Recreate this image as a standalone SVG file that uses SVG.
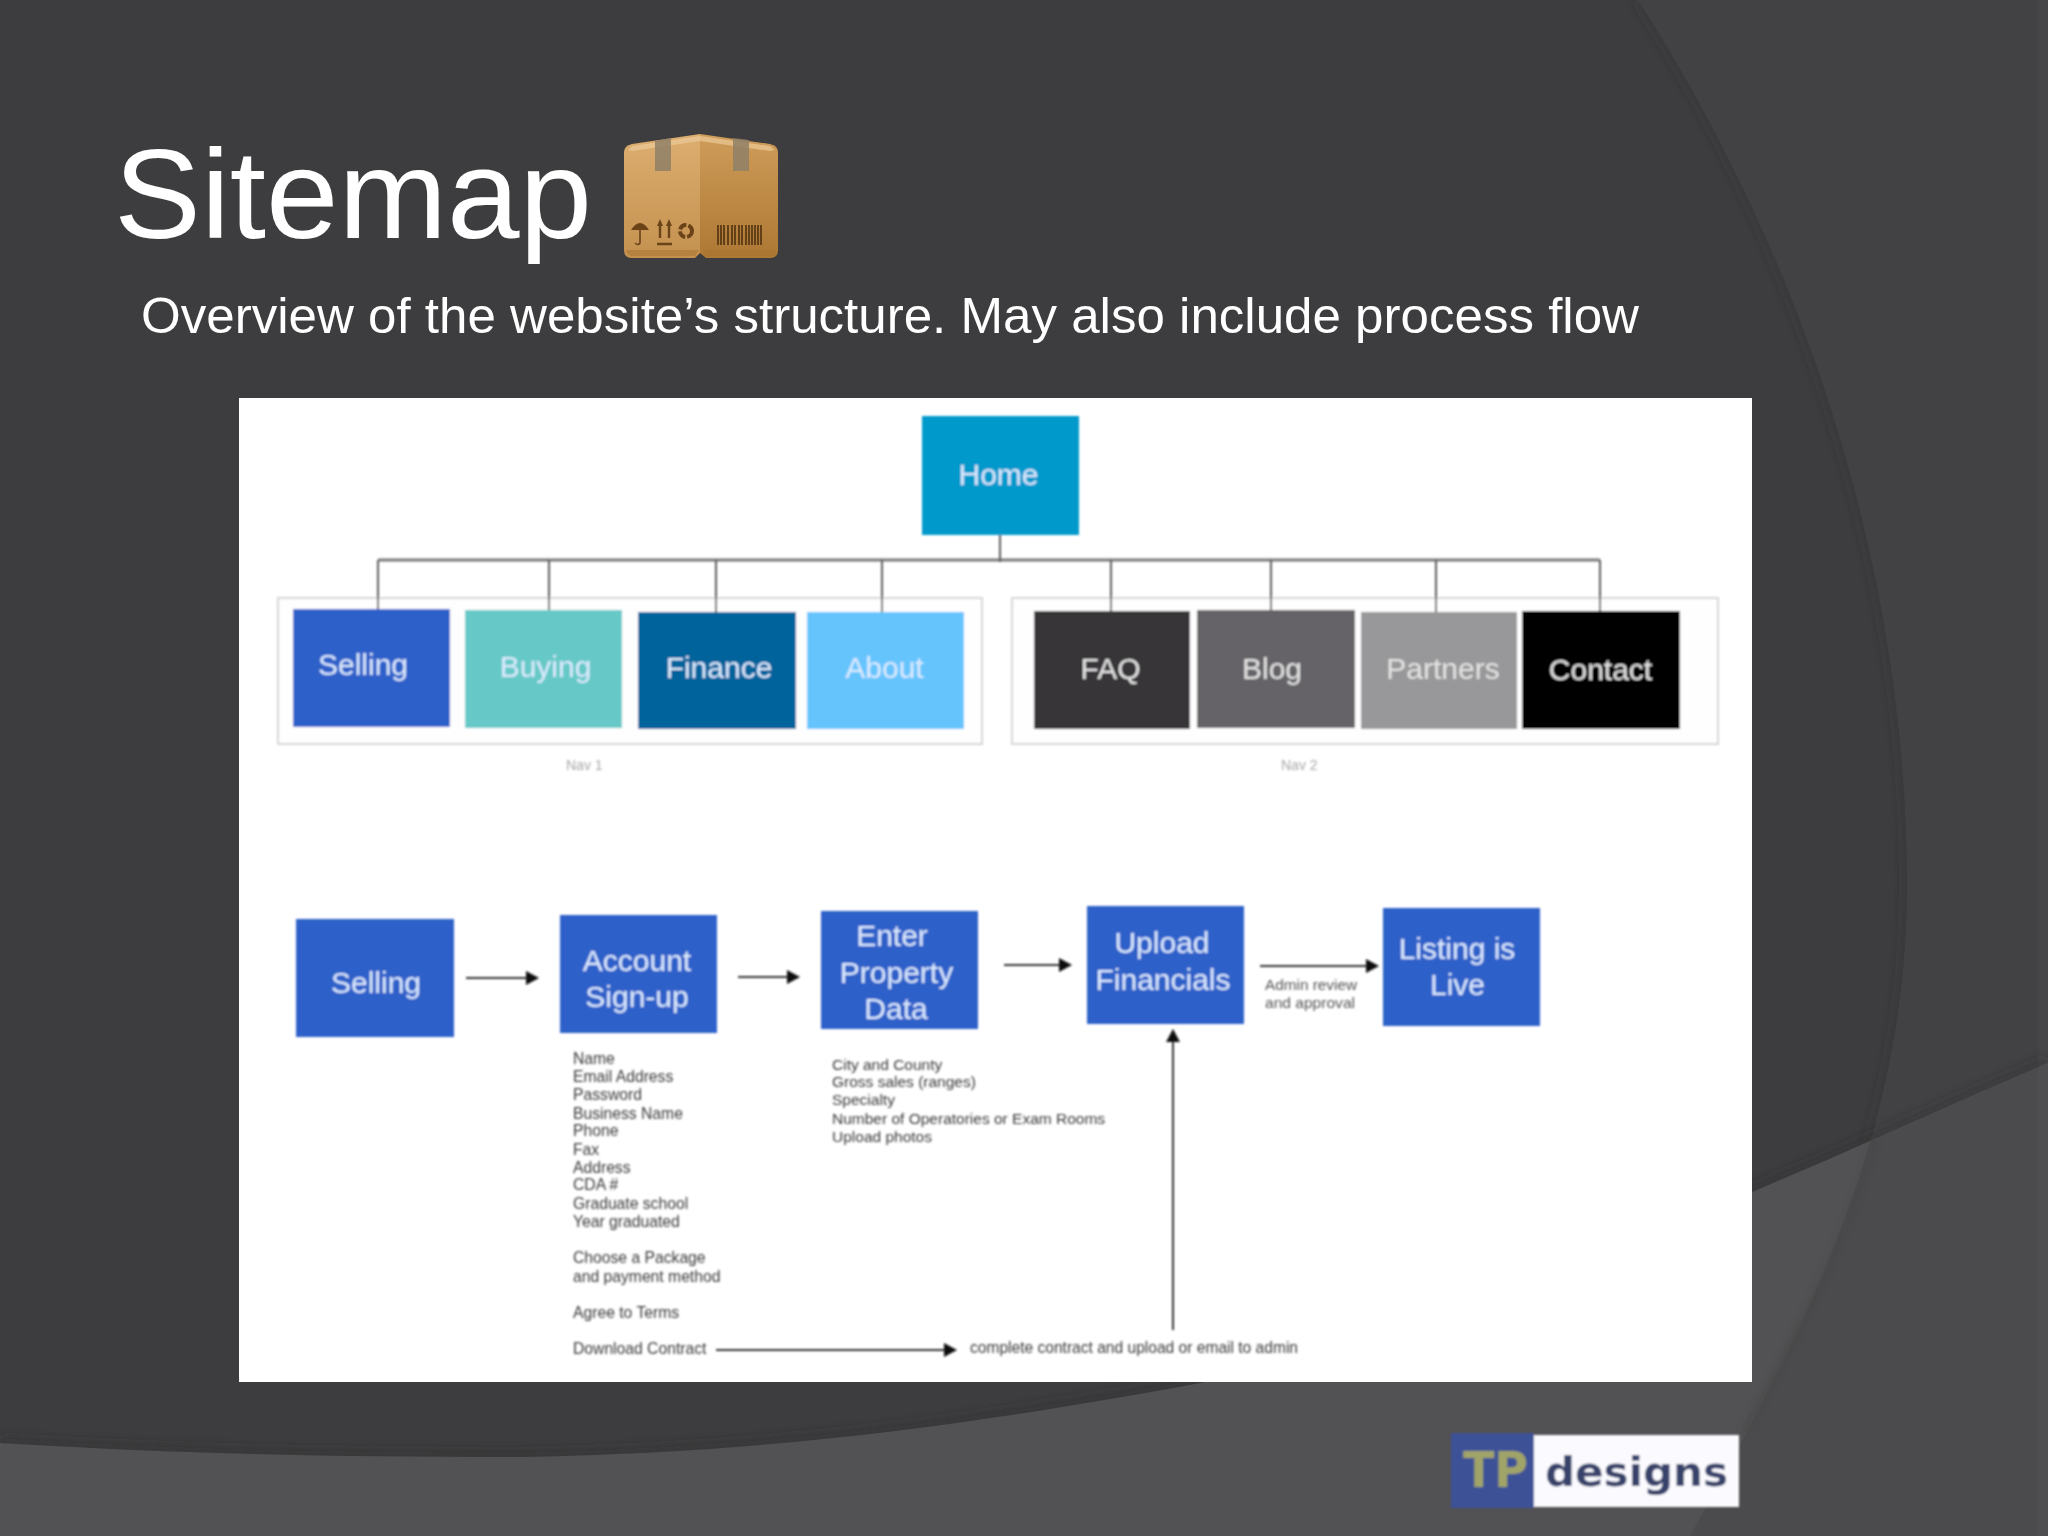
<svg xmlns="http://www.w3.org/2000/svg" width="2048" height="1536" viewBox="0 0 2048 1536">
<style>
text{font-family:"Liberation Sans",Arial,sans-serif}
.lbl{font-size:30px;fill:#dcebff;text-anchor:middle}
.gl{font-size:30px;fill:#e4e4e4;text-anchor:middle}
.sm{font-size:15.7px;fill:#3a3a3a}
.pr{font-size:15.5px;fill:#3a3a3a}
.adm{font-size:15px;fill:#555}
.nav{font-size:14px;fill:#a8a8a8}
.blue{fill:#2e60c9}
.navbox{fill:#fefefe;stroke:#d6d6d8;stroke-width:2}
.tree{fill:none;stroke:#5c5c5e;stroke-width:2}
.flow{fill:none;stroke:#333;stroke-width:2;marker-end:url(#arr)}
</style>
<defs>
<marker id="arr" markerUnits="userSpaceOnUse" markerWidth="14" markerHeight="16" refX="12" refY="7" orient="auto"><path d="M0 0L13 7L0 14Z" fill="#111"/></marker>
<filter id="soft" x="-2%" y="-2%" width="104%" height="104%"><feGaussianBlur stdDeviation="0.8"/></filter>
<filter id="mid" filterUnits="userSpaceOnUse" x="1600" y="1000" width="448" height="536"><feGaussianBlur stdDeviation="3"/></filter>
<filter id="sh" filterUnits="userSpaceOnUse" x="-40" y="-40" width="2128" height="1616"><feGaussianBlur stdDeviation="6"/></filter>
<clipPath id="rightClip"><path d="M1638 0C1760 190 1905 500 1907 880C1908 1140 1800 1340 1690 1536H2048V0Z"/></clipPath>
<clipPath id="leftClip"><path d="M0 0H1638C1760 190 1905 500 1907 880C1908 1140 1800 1340 1690 1536H0Z"/></clipPath>
<linearGradient id="boxL" x1="0" y1="0" x2="0" y2="1"><stop offset="0" stop-color="#dcae70"/><stop offset="1" stop-color="#c4914f"/></linearGradient>
<linearGradient id="boxR" x1="0" y1="0" x2="0" y2="1"><stop offset="0" stop-color="#cf9d5a"/><stop offset="1" stop-color="#ad7833"/></linearGradient>
</defs>

<g id="background">
<rect width="2048" height="1536" fill="#3d3c3e"/>
<path d="M1638 0C1760 190 1905 500 1907 880C1908 1140 1800 1340 1690 1536H2048V0Z" fill="#424143"/>
<g clip-path="url(#leftClip)"><path d="M1638 0C1760 190 1905 500 1907 880C1908 1140 1800 1340 1690 1536" fill="none" stroke="#2f2e30" stroke-width="6" stroke-opacity=".4" filter="url(#sh)"/></g>
<path d="M0 1443C200 1455 350 1457 526 1457C765 1452 957 1428 1200 1383C1400 1340 1600 1255 1752 1192C1875 1140 1960 1100 2048 1063" fill="none" stroke="#2c2b2d" stroke-width="10" stroke-opacity=".45" filter="url(#sh)"/>
<path id="lowerBand" d="M0 1443C200 1455 350 1457 526 1457C765 1452 957 1428 1200 1383C1400 1340 1600 1255 1752 1192C1875 1140 1960 1100 2048 1063V1536H0Z" fill="#525153"/>
<g clip-path="url(#rightClip)"><path d="M0 1443C200 1455 350 1457 526 1457C765 1452 957 1428 1200 1383C1400 1340 1600 1255 1752 1192C1875 1140 1960 1100 2048 1063V1536H0Z" fill="#4b4a4c"/></g>
<path d="M1875 1140C1850 1225 1800 1335 1743 1433" fill="none" stroke="#434244" stroke-width="5" stroke-opacity=".6" filter="url(#mid)"/>
<rect x="2038" width="10" height="1536" fill="#fff" fill-opacity=".02"/>
</g>

<text id="title" x="114" y="238" font-size="127" fill="#fff" textLength="478" lengthAdjust="spacingAndGlyphs">Sitemap</text>
<text id="subtitle" x="141" y="333" font-size="50" fill="#fff" textLength="1498" lengthAdjust="spacingAndGlyphs">Overview of the website’s structure. May also include process flow</text>

<g id="box-icon">
<path d="M624 152Q624 146 632 144L700 134V253L695 258H632Q624 258 624 250Z" fill="url(#boxL)"/>
<path d="M700 134L770 144Q778 146 778 152V250Q778 258 770 258H706L700 253Z" fill="url(#boxR)"/>
<path d="M628 150L632 146L700 136L770 146L775 150L770 151L700 141L632 151Z" fill="#ecca98" fill-opacity=".7"/>
<path d="M655 141L671 138V171H655Z M733 138L749 140V171H733Z" fill="#8f8067" fill-opacity=".85"/>
<path d="M626 250H699L695 256H632Q628 256 626 250Z M703 250H776Q776 256 770 256H707Z" fill="#a8722f" fill-opacity=".5"/>
<path d="M631 230Q640 216 649 230Z" fill="#6b4319"/>
<path d="M640 226V243Q638 246 635 243" fill="none" stroke="#6b4319" stroke-width="1.6"/>
<path d="M660 224V238M669 224V238M657 244H672" fill="none" stroke="#6b4319" stroke-width="2.4"/>
<path d="M657 226L660 219L663 226ZM666 226L669 219L672 226Z" fill="#6b4319"/>
<circle cx="686" cy="231" r="6" fill="none" stroke="#6b4319" stroke-width="4" stroke-dasharray="8 2"/>
<path d="M718 225V245M721 225V245M724 225V245M728 225V245M732 225V245M735 225V245M739 225V245M742 225V245M746 225V245M749 225V245M752 225V245M755 225V245M758 225V245M761 225V245" stroke="#5b3a14" stroke-width="1.8"/>
</g>

<g id="panel-bg"><rect x="239" y="398" width="1513" height="984" fill="#fff"/></g>

<g filter="url(#soft)">
<g id="nav-frames">
<rect class="navbox" x="278" y="598" width="704" height="146"/>
<rect class="navbox" x="1012" y="598" width="706" height="146"/>
</g>

<g id="connectors">
<path d="M378 560H1600" fill="none" stroke="#7a7a7c" stroke-width="3"/>
<path class="tree" d="M1000 535V562M378 560V609M549 560V610M716 560V612M882 560V612M1111 560V611M1271 560V610M1436 560V612M1600 560V611"/>
<path class="flow" d="M466 978H538"/>
<path class="flow" d="M738 977H799"/>
<path class="flow" d="M1004 965H1071"/>
<path class="flow" d="M1260 966H1378"/>
<path class="flow" d="M1173 1330V1030"/>
<path class="flow" d="M716 1350H956"/>
</g>

<g id="home"><rect x="922" y="416" width="157" height="119" fill="#0099cc"/><text class="lbl" x="998.5" y="485">Home</text></g>
<g id="nav-selling"><rect class="blue" x="293" y="609" width="157" height="118"/><text class="lbl" x="363" y="675">Selling</text></g>
<g id="nav-buying"><rect x="465" y="610" width="157" height="118" fill="#66c9c7"/><text class="lbl" x="545.5" y="677">Buying</text></g>
<g id="nav-finance"><rect x="638" y="612" width="158" height="117" fill="#00639c"/><text class="lbl" x="719" y="678">Finance</text></g>
<g id="nav-about"><rect x="807" y="612" width="157" height="117" fill="#66c4fd"/><text class="lbl" x="884.5" y="678">About</text></g>
<g id="nav-faq"><rect x="1034" y="611" width="156" height="118" fill="#373538"/><text class="gl" x="1110.5" y="679">FAQ</text></g>
<g id="nav-blog"><rect x="1197" y="610" width="158" height="118" fill="#666467"/><text class="gl" x="1272" y="679">Blog</text></g>
<g id="nav-partners"><rect x="1361" y="612" width="156" height="117" fill="#989799"/><text class="gl" x="1443" y="679">Partners</text></g>
<g id="nav-contact"><rect x="1522" y="611" width="158" height="118" fill="#000"/><text class="gl" x="1600.5" y="680">Contact</text></g>
<text class="nav" x="566" y="770">Nav 1</text>
<text class="nav" x="1281" y="770">Nav 2</text>

<g id="flow-selling"><rect class="blue" x="296" y="919" width="158" height="118"/><text class="lbl" x="376" y="993">Selling</text></g>
<g id="flow-account"><rect class="blue" x="560" y="915" width="157" height="118"/><text class="lbl" x="637" y="971">Account</text><text class="lbl" x="637" y="1007">Sign-up</text></g>
<g id="flow-enter"><rect class="blue" x="821" y="911" width="157" height="118"/><text class="lbl" x="892" y="946">Enter</text><text class="lbl" x="896.5" y="983">Property</text><text class="lbl" x="896" y="1019">Data</text></g>
<g id="flow-upload"><rect class="blue" x="1087" y="906" width="157" height="118"/><text class="lbl" x="1162" y="953">Upload</text><text class="lbl" x="1163" y="990">Financials</text></g>
<g id="flow-listing"><rect class="blue" x="1383" y="908" width="157" height="118"/><text class="lbl" x="1457" y="959">Listing is</text><text class="lbl" x="1457.5" y="995">Live</text></g>

<g id="account-fields">
<text class="sm" x="573" y="1064">Name</text>
<text class="sm" x="573" y="1082">Email Address</text>
<text class="sm" x="573" y="1100">Password</text>
<text class="sm" x="573" y="1119">Business Name</text>
<text class="sm" x="573" y="1136">Phone</text>
<text class="sm" x="573" y="1155">Fax</text>
<text class="sm" x="573" y="1173">Address</text>
<text class="sm" x="573" y="1190">CDA #</text>
<text class="sm" x="573" y="1209">Graduate school</text>
<text class="sm" x="573" y="1227">Year graduated</text>
<text class="sm" x="573" y="1263">Choose a Package</text>
<text class="sm" x="573" y="1282">and payment method</text>
<text class="sm" x="573" y="1318">Agree to Terms</text>
<text class="sm" x="573" y="1354">Download Contract</text>
</g>
<g id="property-fields">
<text class="pr" x="832" y="1070">City and County</text>
<text class="pr" x="832" y="1087">Gross sales (ranges)</text>
<text class="pr" x="832" y="1105">Specialty</text>
<text class="pr" x="832" y="1124">Number of Operatories or Exam Rooms</text>
<text class="pr" x="832" y="1142">Upload photos</text>
</g>
<text class="sm" x="970" y="1353" textLength="328" lengthAdjust="spacingAndGlyphs">complete contract and upload or email to admin</text>
<text class="adm" x="1265" y="990" textLength="92" lengthAdjust="spacingAndGlyphs">Admin review</text>
<text class="adm" x="1265" y="1008" textLength="90" lengthAdjust="spacingAndGlyphs">and approval</text>
</g>

<g id="logo" filter="url(#soft)">
<rect x="1451" y="1433" width="83" height="75" fill="#3e5197"/>
<rect x="1534" y="1435" width="205" height="72" fill="#fbfbff"/>
<text x="1463" y="1487" font-size="50" font-weight="700" fill="#a0a468" style="font-family:'DejaVu Sans',sans-serif" textLength="65" lengthAdjust="spacingAndGlyphs">TP</text>
<text x="1545" y="1486" font-size="40" font-weight="700" fill="#39436a" style="font-family:'DejaVu Sans',sans-serif" textLength="183" lengthAdjust="spacingAndGlyphs">designs</text>
</g>
</svg>
